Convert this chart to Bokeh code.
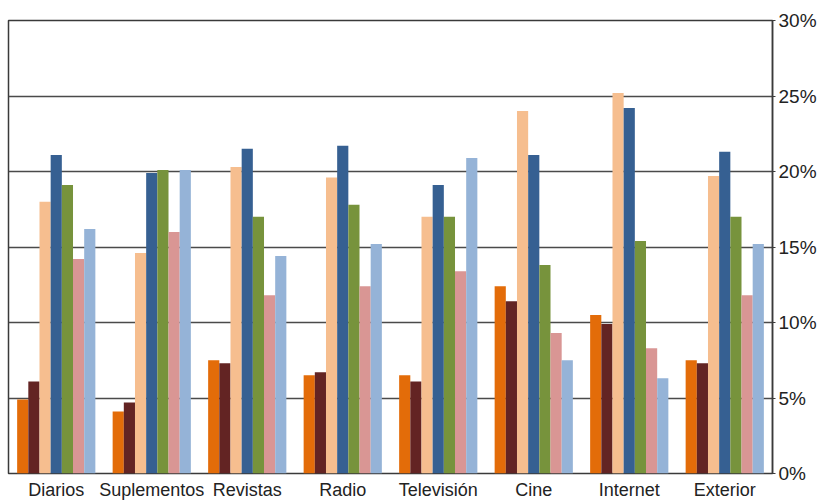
from bokeh.plotting import figure
from bokeh.models import FactorRange, Range1d, FixedTicker, PrintfTickFormatter, ColumnDataSource
from bokeh.transform import dodge
from bokeh.embed import file_html
from bokeh.resources import INLINE

categories = ["Diarios", "Suplementos", "Revistas", "Radio", "Televisión", "Cine", "Internet", "Exterior"]
serie_1 = [4.9, 4.1, 7.5, 6.5, 6.5, 12.4, 10.5, 7.5]
serie_2 = [6.1, 4.7, 7.3, 6.7, 6.1, 11.4, 9.9, 7.3]
serie_3 = [18.0, 14.6, 20.3, 19.6, 17.0, 24.0, 25.2, 19.7]
serie_4 = [21.1, 19.9, 21.5, 21.7, 19.1, 21.1, 24.2, 21.3]
serie_5 = [19.1, 20.1, 17.0, 17.8, 17.0, 13.8, 15.4, 17.0]
serie_6 = [14.2, 16.0, 11.8, 12.4, 13.4, 9.3, 8.3, 11.8]
serie_7 = [16.2, 20.1, 14.4, 15.2, 20.9, 7.5, 6.3, 15.2]
series_names = ["serie_1", "serie_2", "serie_3", "serie_4", "serie_5", "serie_6", "serie_7"]
colors = ["#E36C09", "#632423", "#F6BE8F", "#366092", "#77933C", "#D99694", "#95B3D7"]
y_ticks = [0, 5, 10, 15, 20, 25, 30]

source = ColumnDataSource(dict(
    cat=categories, serie_1=serie_1, serie_2=serie_2, serie_3=serie_3, serie_4=serie_4,
    serie_5=serie_5, serie_6=serie_6, serie_7=serie_7))

p = figure(x_range=FactorRange(*categories), y_range=Range1d(0, 30),
           width=819, height=504, output_backend="svg", toolbar_location=None,
           y_axis_location="right",
           min_border_left=8, min_border_top=20, min_border_right=43, min_border_bottom=31)

bw = 0.117
for i, (name, col) in enumerate(zip(series_names, colors)):
    p.vbar(x=dodge("cat", (i - 3) * bw, range=p.x_range), top=name, width=bw,
           source=source, fill_color=col, line_color=None)

p.outline_line_color = "#3a3a3a"
p.outline_line_width = 1.5
p.xgrid.grid_line_color = None
p.ygrid.grid_line_color = "#4a4a4a"
p.ygrid.grid_line_width = 1.5
p.ygrid.ticker = FixedTicker(ticks=y_ticks)

font = "Liberation Sans"
yax = p.yaxis[0]
yax.ticker = FixedTicker(ticks=y_ticks)
yax.formatter = PrintfTickFormatter(format="%d%%")
yax.axis_line_color = "#3a3a3a"
yax.axis_line_width = 1.5
yax.major_tick_line_color = "#3a3a3a"
yax.major_tick_out = 3
yax.major_tick_in = 0
yax.minor_tick_line_color = None
yax.major_label_standoff = 3
yax.major_label_text_font = font
yax.major_label_text_font_size = "19px"
yax.major_label_text_color = "#222222"

xax = p.xaxis[0]
xax.axis_line_color = None
xax.major_tick_line_color = None
xax.minor_tick_line_color = None
xax.major_tick_out = 0
xax.major_tick_in = 0
xax.major_label_standoff = 6
xax.major_label_text_font = font
xax.major_label_text_font_size = "18px"
xax.major_label_text_color = "#222222"

p.background_fill_color = "white"
p.border_fill_color = "white"

open("out.html", "w").write(file_html(p, INLINE))
